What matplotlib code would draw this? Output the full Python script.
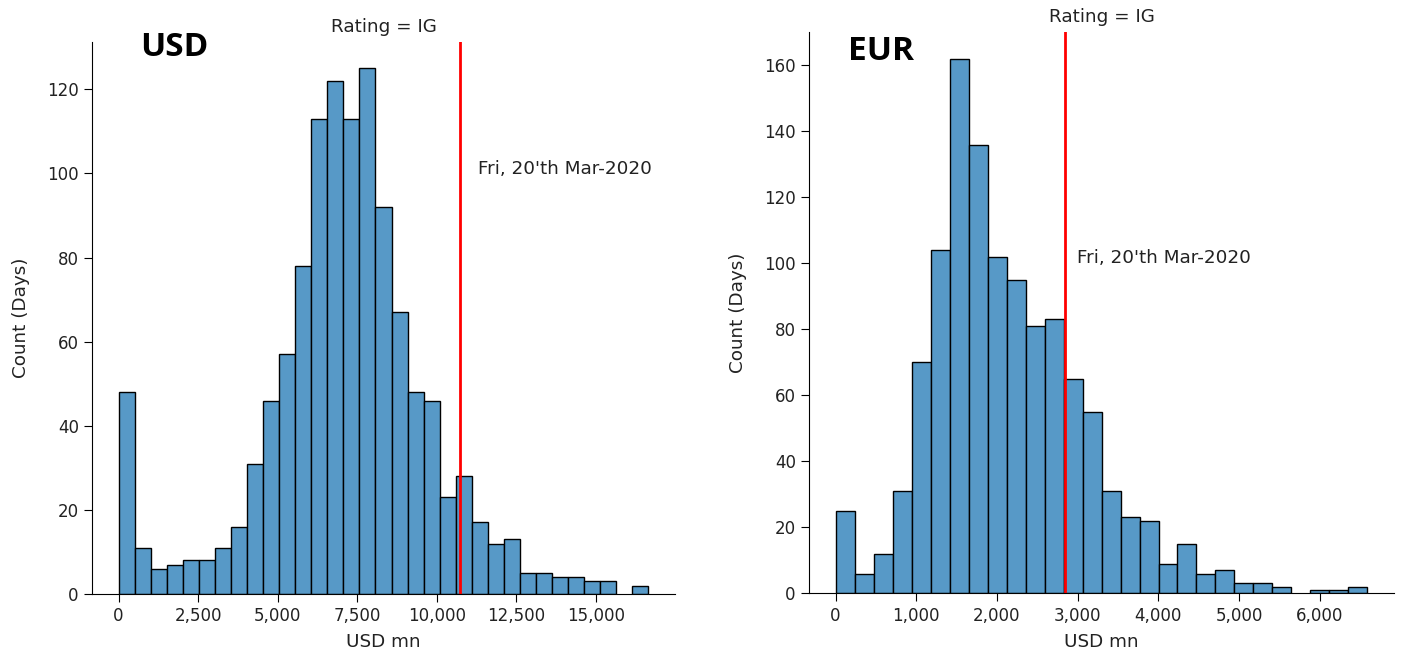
import numpy as np
import matplotlib
matplotlib.use("Agg")
import matplotlib.pyplot as plt
from matplotlib.ticker import FuncFormatter

# ---- data ----
usd_bin_start = 0.0
usd_bin_width = 504.4
usd_counts = [48, 11, 6, 7, 8, 8, 11, 16, 31, 46, 57, 78, 113, 122, 113, 125,
              92, 67, 48, 46, 23, 28, 17, 12, 13, 5, 5, 4, 4, 3, 3, 0, 2]
usd_event = 10735

eur_bin_start = 0.0
eur_bin_width = 235.4
eur_counts = [25, 6, 12, 31, 70, 104, 162, 136, 102, 95, 81, 83, 65, 55, 31, 23,
              22, 9, 15, 6, 7, 3, 3, 2, 0, 1, 1, 2]
eur_event = 2845

panel_labels = ["USD", "EUR"]
title_text = "Rating = IG"
event_label = "Fri, 20'th Mar-2020"
usd_text_pos = (11300, 98.8)
eur_text_pos = (2990, 98.8)
xlabel = "USD mn"
ylabel = "Count (Days)"

bar_color = "#5799c7"

fig = plt.figure(figsize=(14.05, 6.53), dpi=100)
ax1 = fig.add_axes([0.0655, 0.0904, 0.4149, 0.8453])
ax2 = fig.add_axes([0.5758, 0.0914, 0.4164, 0.8596])

def draw(ax, start, width, counts, event, tpos, ymax_pad=1.05):
    counts = np.asarray(counts, dtype=float)
    edges = start + width * np.arange(len(counts) + 1)
    nz = counts > 0
    ax.bar(edges[:-1][nz], counts[nz], width=width, align="edge",
           color=bar_color, edgecolor="black", linewidth=1.0)
    ax.set_xlim(edges[0] - 0.05 * (edges[-1] - edges[0]),
                edges[-1] + 0.05 * (edges[-1] - edges[0]))
    ax.set_ylim(0, counts.max() * ymax_pad)
    ax.axvline(event, color="red", linewidth=2)
    ax.text(tpos[0], tpos[1], event_label, fontsize=13.2, va="bottom", ha="left",
            color="#222222")
    ax.set_title(title_text, fontsize=13.2, pad=7, color="#222222")
    ax.set_xlabel(xlabel, fontsize=13.2, labelpad=6, color="#222222")
    ax.set_ylabel(ylabel, fontsize=13.2, labelpad=12, color="#222222")
    ax.xaxis.set_major_formatter(FuncFormatter(lambda v, p: f"{v:,.0f}"))
    ax.tick_params(labelsize=12, length=6, labelcolor="#222222")
    for s in ("top", "right"):
        ax.spines[s].set_visible(False)

draw(ax1, usd_bin_start, usd_bin_width, usd_counts, usd_event, usd_text_pos)
ax1.set_xticks([0, 2500, 5000, 7500, 10000, 12500, 15000])
ax1.set_yticks([0, 20, 40, 60, 80, 100, 120])
draw(ax2, eur_bin_start, eur_bin_width, eur_counts, eur_event, eur_text_pos)
ax2.set_xticks([0, 1000, 2000, 3000, 4000, 5000, 6000])
ax2.set_yticks([0, 20, 40, 60, 80, 100, 120, 140, 160])

fig.text(140 / 1405, 1 - 48 / 653, panel_labels[0], fontsize=24, fontweight="bold",
         family="Open Sans", va="center", ha="left")
fig.text(848 / 1405, 1 - 52 / 653, panel_labels[1], fontsize=24, fontweight="bold",
         family="Open Sans", va="center", ha="left")

fig.savefig("out.png", dpi=100)
